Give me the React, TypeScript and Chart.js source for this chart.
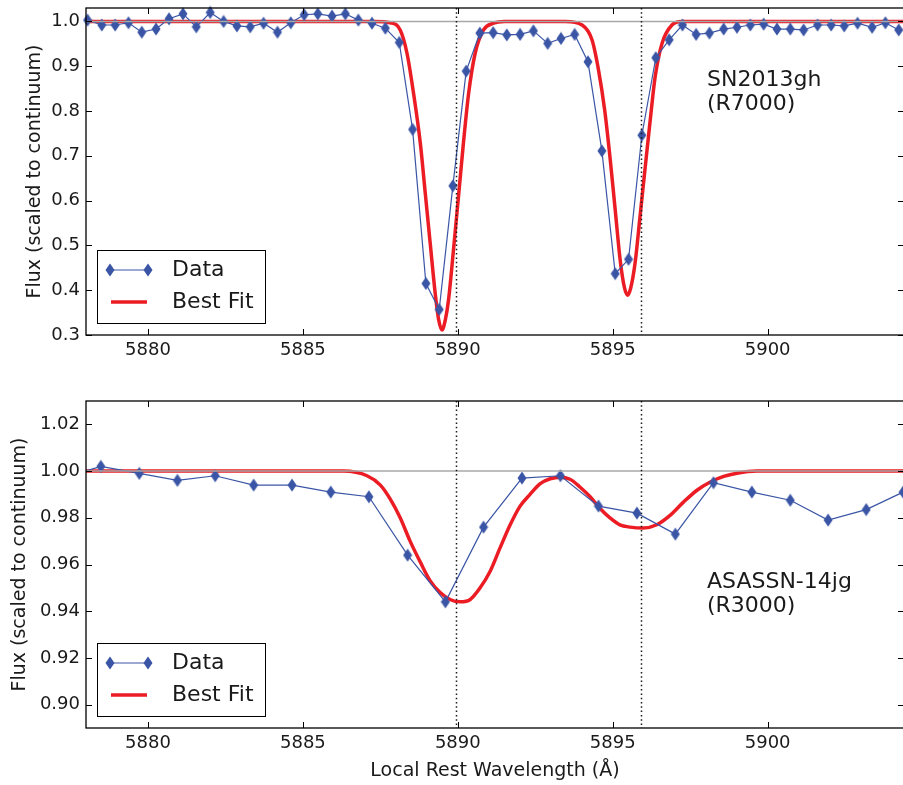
import React, { useEffect, useRef } from 'react';
import { Chart, registerables } from 'chart.js';

Chart.register(...registerables);

// ---------- data ----------
const X_MIN = 5878.0;
const X_MAX = 5904.4;
const X_TICKS = [5880, 5885, 5890, 5895, 5900];
const NA_D_LINES = [5889.95, 5895.92];

const TOP_Y_TICKS = [0.3, 0.4, 0.5, 0.6, 0.7, 0.8, 0.9, 1.0];
const BOTTOM_Y_TICKS = [0.9, 0.92, 0.94, 0.96, 0.98, 1.0, 1.02];

const TOP_DATA_WAVE = [
  5878.05, 5878.51, 5878.94, 5879.37, 5879.8, 5880.26, 5880.68, 5881.13, 5881.56, 5882.01,
  5882.44, 5882.87, 5883.3, 5883.73, 5884.18, 5884.61, 5885.04, 5885.48, 5885.94, 5886.37,
  5886.79, 5887.23, 5887.66, 5888.11, 5888.54, 5888.97, 5889.4, 5889.84, 5890.27, 5890.71,
  5891.14, 5891.58, 5892.01, 5892.44, 5892.9, 5893.33, 5893.77, 5894.2, 5894.65, 5895.08,
  5895.51, 5895.94, 5896.39, 5896.82, 5897.25, 5897.69, 5898.12, 5898.58, 5899.01, 5899.44,
  5899.87, 5900.3, 5900.73, 5901.16, 5901.61, 5902.05, 5902.47, 5902.9, 5903.37, 5903.8,
  5904.23,
];
const TOP_DATA_FLUX = [
  1.003, 0.992, 0.992, 0.997, 0.976, 0.983, 1.006, 1.017, 0.988, 1.02,
  1.0, 0.99, 0.988, 0.996, 0.976, 0.997, 1.015, 1.017, 1.012, 1.017,
  1.003, 0.996, 0.985, 0.953, 0.759, 0.415, 0.357, 0.633, 0.889, 0.974,
  0.975, 0.97, 0.971, 0.979, 0.951, 0.962, 0.971, 0.91, 0.711, 0.437,
  0.469, 0.746, 0.919, 0.959, 0.992, 0.971, 0.974, 0.983, 0.987, 0.992,
  0.994, 0.983, 0.983, 0.981, 0.992, 0.992, 0.99, 0.996, 0.987, 0.997,
  0.981,
];

const TOP_FIT_WAVE = [
  5878.0, 5887.3, 5887.82, 5888.14, 5888.36, 5888.57, 5888.79, 5888.95, 5889.11, 5889.27,
  5889.38, 5889.49, 5889.6, 5889.7, 5889.86, 5890.02, 5890.18, 5890.35, 5890.56, 5890.83,
  5891.15, 5891.5, 5893.47, 5894.01, 5894.33, 5894.54, 5894.74, 5894.92, 5895.08, 5895.24,
  5895.38, 5895.48, 5895.58, 5895.72, 5895.88, 5896.05, 5896.21, 5896.37, 5896.59, 5896.91,
  5897.23, 5904.4,
];
const TOP_FIT_FLUX = [
  1.0, 1.0, 0.997, 0.981, 0.929, 0.84, 0.728, 0.616, 0.504, 0.393,
  0.335, 0.311, 0.335, 0.378, 0.49, 0.608, 0.728, 0.84, 0.929, 0.981,
  0.996, 1.0, 1.0, 0.992, 0.959, 0.892, 0.802, 0.691, 0.579, 0.467,
  0.405, 0.389, 0.405, 0.46, 0.564, 0.676, 0.78, 0.877, 0.951, 0.992,
  1.0, 1.0,
];

const BOTTOM_DATA_WAVE = [
  5877.24, 5878.48, 5879.72, 5880.95, 5882.17, 5883.41, 5884.65, 5885.9, 5887.13, 5888.38,
  5889.6, 5890.83, 5892.07, 5893.31, 5894.54, 5895.78, 5897.02, 5898.25, 5899.49, 5900.73,
  5901.95, 5903.18, 5904.37,
];
const BOTTOM_DATA_FLUX = [
  0.997, 1.002, 0.999, 0.996, 0.998, 0.994, 0.994, 0.991, 0.989, 0.964,
  0.944, 0.976, 0.997, 0.998, 0.985, 0.982, 0.973, 0.995, 0.991, 0.9875,
  0.979, 0.9835, 0.991,
];

const BOTTOM_FIT_WAVE = [
  5878.0, 5886.31, 5887.07, 5887.5, 5887.82, 5888.14, 5888.46, 5888.79, 5889.11, 5889.43,
  5889.75, 5890.08, 5890.4, 5890.72, 5891.04, 5891.36, 5891.69, 5892.01, 5892.33, 5892.66,
  5892.98, 5893.3, 5893.62, 5893.94, 5894.27, 5894.59, 5894.91, 5895.23, 5895.56, 5895.99,
  5896.42, 5896.85, 5897.29, 5897.72, 5898.15, 5898.58, 5899.01, 5899.65, 5904.4,
];
const BOTTOM_FIT_FLUX = [
  1.0, 1.0, 0.998, 0.994, 0.988, 0.98, 0.97, 0.961, 0.953, 0.948,
  0.945, 0.944, 0.945, 0.95, 0.957, 0.967, 0.977, 0.985, 0.99, 0.9946,
  0.9967, 0.9974, 0.9965, 0.9932, 0.989, 0.984, 0.98, 0.977, 0.976, 0.9756,
  0.977, 0.981, 0.9868, 0.9918, 0.9953, 0.9977, 0.9991, 1.0, 1.0,
];

const TOP_LABEL = ['SN2013gh', '(R7000)'];
const BOTTOM_LABEL = ['ASASSN-14jg', '(R3000)'];
const LEGEND_LABELS = ['Data', 'Best Fit'];
const Y_TITLE = 'Flux (scaled to continuum)';
const X_TITLE = 'Local Rest Wavelength (\u00C5)';

// ---------- styles ----------
const BLUE = '#3a55a5';
const RED = '#ec1c24';
const FONT = '"DejaVu Sans", "Bitstream Vera Sans", sans-serif';
const TEXT = '#1a1a1a';

function makeDiamond(color: string) {
  const c = document.createElement('canvas');
  c.width = 10;
  c.height = 14;
  const g = c.getContext('2d')!;
  g.fillStyle = color;
  g.beginPath();
  g.moveTo(5, 0.5);
  g.lineTo(9.5, 7);
  g.lineTo(5, 13.5);
  g.lineTo(0.5, 7);
  g.closePath();
  g.fill();
  return c;
}

const overlayPlugin = {
  id: 'overlay',
  afterDatasetsDraw(chart: any, _args: any, opts: any) {
    const { ctx, chartArea: ca, scales } = chart;
    const xs = scales.x;
    const ys = scales.y;
    ctx.save();

    // continuum line
    const yc = ys.getPixelForValue(1.0);
    ctx.strokeStyle = '#a8a8a8';
    ctx.lineWidth = 1.6;
    ctx.beginPath();
    ctx.moveTo(ca.left, yc);
    ctx.lineTo(ca.right, yc);
    ctx.stroke();

    // Na D rest wavelengths
    ctx.strokeStyle = '#1a1a1a';
    ctx.lineWidth = 1.5;
    ctx.setLineDash([1.5, 2.8]);
    for (const w of NA_D_LINES) {
      const px = Math.round(xs.getPixelForValue(w)) + 0.5;
      ctx.beginPath();
      ctx.moveTo(px, ca.top);
      ctx.lineTo(px, ca.bottom);
      ctx.stroke();
    }
    ctx.setLineDash([]);

    // frame
    ctx.strokeStyle = '#000';
    ctx.lineWidth = 1.3;
    ctx.strokeRect(ca.left, ca.top, ca.right - ca.left, ca.bottom - ca.top);

    // inward ticks
    const TL = 6;
    ctx.lineWidth = 1;
    ctx.beginPath();
    for (const t of X_TICKS) {
      const px = Math.round(xs.getPixelForValue(t)) + 0.5;
      ctx.moveTo(px, ca.bottom);
      ctx.lineTo(px, ca.bottom - TL);
      ctx.moveTo(px, ca.top);
      ctx.lineTo(px, ca.top + TL);
    }
    for (const t of opts.yTicks) {
      const py = Math.round(ys.getPixelForValue(t)) + 0.5;
      ctx.moveTo(ca.left, py);
      ctx.lineTo(ca.left + TL, py);
      ctx.moveTo(ca.right, py);
      ctx.lineTo(ca.right - TL, py);
    }
    ctx.stroke();

    // legend
    const lx = ca.left + 11;
    const lb = ca.bottom - 12;
    const lw = 168;
    const lh = 73;
    ctx.fillStyle = '#fff';
    ctx.fillRect(lx, lb - lh, lw, lh);
    ctx.strokeStyle = '#000';
    ctx.lineWidth = 1;
    ctx.strokeRect(Math.round(lx) + 0.5, Math.round(lb - lh) + 0.5, lw, lh);

    const r1 = lb - 53;
    const r2 = lb - 21;
    ctx.strokeStyle = BLUE;
    ctx.lineWidth = 1.2;
    ctx.beginPath();
    ctx.moveTo(ca.left + 24, r1);
    ctx.lineTo(ca.left + 62, r1);
    ctx.stroke();
    const dia = opts.diamond;
    ctx.drawImage(dia, ca.left + 24 - dia.width / 2, r1 - dia.height / 2);
    ctx.drawImage(dia, ca.left + 62 - dia.width / 2, r1 - dia.height / 2);

    ctx.strokeStyle = RED;
    ctx.lineWidth = 3.5;
    ctx.beginPath();
    ctx.moveTo(ca.left + 25, r2);
    ctx.lineTo(ca.left + 61, r2);
    ctx.stroke();

    ctx.fillStyle = TEXT;
    ctx.font = `22px ${FONT}`;
    ctx.textBaseline = 'middle';
    ctx.textAlign = 'left';
    ctx.fillText(LEGEND_LABELS[0], ca.left + 86, r1);
    ctx.fillText(LEGEND_LABELS[1], ca.left + 86, r2);

    // object label
    ctx.textBaseline = 'alphabetic';
    opts.label.forEach((line: string, i: number) => {
      ctx.fillText(line, opts.labelX, ca.top + opts.labelY + i * 24);
    });

    ctx.restore();
  },
};

type PanelProps = {
  top: number;
  height: number;
  dataWave: number[];
  dataFlux: number[];
  fitWave: number[];
  fitFlux: number[];
  yMin: number;
  yMax: number;
  yTicks: number[];
  yDigits: number;
  yTitlePad: number;
  xTitle: boolean;
  label: string[];
  labelY: number;
  dataClipLeft: number;
};

function Panel(p: PanelProps) {
  const ref = useRef<HTMLCanvasElement | null>(null);
  useEffect(() => {
    if (!ref.current) return;
    const diamond = makeDiamond(BLUE);
    const canvasH = p.height;
    const chart = new Chart(ref.current, {
      type: 'line',
      data: {
        datasets: [
          {
            label: 'Data',
            data: p.dataWave.map((x, i) => ({ x, y: p.dataFlux[i] })),
            borderColor: BLUE,
            backgroundColor: BLUE,
            borderWidth: 1.2,
            pointStyle: diamond as any,
            pointRadius: 6,
            tension: 0,
            clip: { left: p.dataClipLeft, right: 8, top: 8, bottom: 8 } as any,
          },
          {
            label: 'Best Fit',
            data: p.fitWave.map((x, i) => ({ x, y: p.fitFlux[i] })),
            borderColor: RED,
            backgroundColor: RED,
            borderWidth: 3.5,
            pointRadius: 0,
            cubicInterpolationMode: 'monotone',
          },
        ],
      },
      options: {
        animation: false,
        responsive: false,
        events: [],
        layout: { autoPadding: false, padding: { top: 8, left: 0, right: 1, bottom: 0 } },
        plugins: {
          legend: { display: false },
          tooltip: { enabled: false },
          overlay: {
            yTicks: p.yTicks,
            diamond,
            label: p.label,
            labelX: 707,
            labelY: p.labelY,
          },
        } as any,
        scales: {
          x: {
            type: 'linear',
            min: X_MIN,
            max: X_MAX,
            grid: { display: false, drawTicks: false },
            border: { display: false },
            ticks: {
              padding: 5,
              color: TEXT,
              font: { family: FONT, size: 18 },
              maxRotation: 0,
              callback: (v: any) => String(v),
            },
            title: {
              display: p.xTitle,
              text: X_TITLE,
              color: TEXT,
              font: { family: FONT, size: 19 },
              padding: { top: 0, bottom: 2.6 },
            },
            afterBuildTicks: (scale: any) => {
              scale.ticks = X_TICKS.map((v) => ({ value: v }));
            },
            afterFit: (scale: any) => {
              scale.height = canvasH - 8 - 327;
              scale.paddingLeft = 0;
              scale.paddingRight = 0;
              scale.paddingTop = 0;
              scale.paddingBottom = 0;
            },
          },
          y: {
            type: 'linear',
            min: p.yMin,
            max: p.yMax,
            grid: { display: false, drawTicks: false },
            border: { display: false },
            ticks: {
              padding: 6,
              color: TEXT,
              font: { family: FONT, size: 18 },
              callback: (v: any) => Number(v).toFixed(p.yDigits),
            },
            title: {
              display: true,
              text: Y_TITLE,
              color: TEXT,
              font: { family: FONT, size: 19 },
              padding: { top: p.yTitlePad, bottom: 0 },
            },
            afterBuildTicks: (scale: any) => {
              scale.ticks = p.yTicks.map((v) => ({ value: v }));
            },
            afterFit: (scale: any) => {
              scale.width = 86;
              scale.paddingLeft = 0;
              scale.paddingRight = 0;
              scale.paddingTop = 0;
              scale.paddingBottom = 0;
            },
          },
        },
      },
      plugins: [overlayPlugin],
    } as any);
    return () => chart.destroy();
  }, []);
  return (
    <canvas
      ref={ref}
      width={905}
      height={p.height}
      style={{ position: 'absolute', left: 0, top: p.top, display: 'block', width: 905, height: p.height }}
    />
  );
}

export default function App() {
  return (
    <div
      style={{
        position: 'absolute',
        left: 0,
        top: 0,
        width: 903,
        height: 785,
        overflow: 'hidden',
        background: '#fff',
      }}
    >
      <Panel
        top={0}
        height={370}
        dataWave={TOP_DATA_WAVE}
        dataFlux={TOP_DATA_FLUX}
        fitWave={TOP_FIT_WAVE}
        fitFlux={TOP_FIT_FLUX}
        yMin={0.3}
        yMax={1.03}
        yTicks={TOP_Y_TICKS}
        yDigits={1}
        yTitlePad={23.6}
        xTitle={false}
        label={TOP_LABEL}
        labelY={78}
        dataClipLeft={8}
      />
      <Panel
        top={393}
        height={392}
        dataWave={BOTTOM_DATA_WAVE}
        dataFlux={BOTTOM_DATA_FLUX}
        fitWave={BOTTOM_FIT_WAVE}
        fitFlux={BOTTOM_FIT_FLUX}
        yMin={0.89}
        yMax={1.03}
        yTicks={BOTTOM_Y_TICKS}
        yDigits={2}
        yTitlePad={8.6}
        xTitle={true}
        label={BOTTOM_LABEL}
        labelY={187}
        dataClipLeft={0}
      />
    </div>
  );
}
